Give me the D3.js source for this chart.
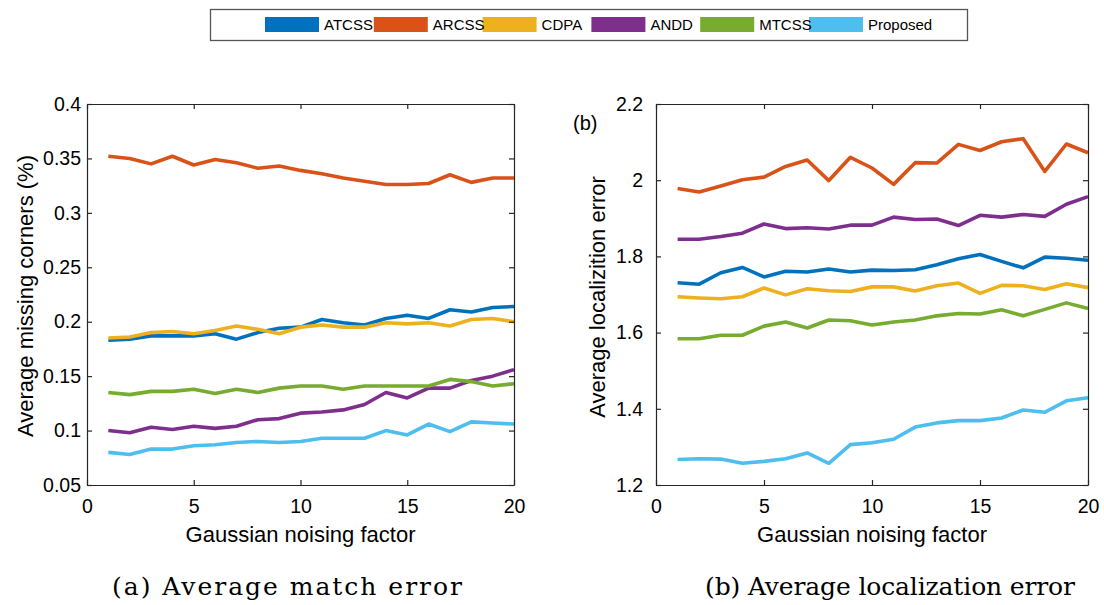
<!DOCTYPE html>
<html><head><meta charset="utf-8">
<script src="https://cdn.jsdelivr.net/npm/d3@7"></script>
<style>body{margin:0;background:#fff}svg{display:block}</style>
</head><body>
<svg id="chart" width="1104" height="605"></svg>
<script>
const xValues = [1,2,3,4,5,6,7,8,9,10,11,12,13,14,15,16,17,18,19,20];
const seriesNames = ["ATCSS","ARCSS","CDPA","ANDD","MTCSS","Proposed"];
const seriesColors = ["#0072BD","#D95319","#EDB120","#7E2F8E","#77AC30","#4DBEEE"];
const xTicks = [0,5,10,15,20];
const leftYTicks = [0.05,0.1,0.15,0.2,0.25,0.3,0.35,0.4];
const rightYTicks = [1.2,1.4,1.6,1.8,2,2.2];

// (a) Average missing corners
const matchATCSS = [0.183,0.184,0.187,0.187,0.187,0.189,0.184,0.190,0.194,0.195,0.202,0.199,0.197,0.203,0.206,0.203,0.211,0.209,0.213,0.214];
const matchARCSS = [0.352,0.350,0.345,0.352,0.344,0.349,0.346,0.341,0.343,0.339,0.336,0.332,0.329,0.326,0.326,0.327,0.335,0.328,0.332,0.332];
const matchCDPA  = [0.185,0.186,0.190,0.191,0.189,0.192,0.196,0.193,0.189,0.195,0.197,0.195,0.195,0.199,0.198,0.199,0.196,0.202,0.203,0.200];
const matchANDD  = [0.100,0.098,0.103,0.101,0.104,0.102,0.104,0.110,0.111,0.116,0.117,0.119,0.124,0.135,0.130,0.139,0.139,0.146,0.150,0.156];
const matchMTCSS = [0.135,0.133,0.136,0.136,0.138,0.134,0.138,0.135,0.139,0.141,0.141,0.138,0.141,0.141,0.141,0.141,0.147,0.145,0.141,0.143];
const matchProp  = [0.080,0.078,0.083,0.083,0.086,0.087,0.089,0.090,0.089,0.090,0.093,0.093,0.093,0.100,0.096,0.106,0.099,0.108,0.107,0.106];

// (b) Average localization error
const locATCSS = [1.731,1.727,1.757,1.771,1.746,1.761,1.759,1.767,1.759,1.764,1.763,1.765,1.778,1.794,1.805,1.787,1.770,1.798,1.795,1.790];
const locARCSS = [1.978,1.969,1.985,2.001,2.008,2.036,2.053,1.999,2.060,2.032,1.989,2.046,2.045,2.094,2.078,2.101,2.109,2.023,2.095,2.072];
const locCDPA  = [1.694,1.691,1.689,1.694,1.717,1.699,1.715,1.710,1.708,1.720,1.720,1.709,1.723,1.730,1.703,1.724,1.723,1.713,1.728,1.718];
const locANDD  = [1.845,1.845,1.852,1.861,1.885,1.873,1.875,1.872,1.882,1.882,1.903,1.897,1.898,1.881,1.908,1.903,1.910,1.905,1.937,1.957];
const locMTCSS = [1.584,1.584,1.593,1.593,1.617,1.628,1.612,1.633,1.631,1.620,1.628,1.633,1.644,1.650,1.649,1.660,1.644,1.661,1.678,1.663];
const locProp  = [1.267,1.269,1.268,1.257,1.262,1.269,1.284,1.257,1.306,1.311,1.320,1.352,1.363,1.369,1.369,1.376,1.397,1.391,1.421,1.429];

const svg = d3.select("#chart");
const FONT = "'Liberation Sans', Arial, Helvetica, sans-serif";
const axisColor = "#262626";

function drawPanel(cfg) {
  const x = d3.scaleLinear().domain([0,20]).range([cfg.x0, cfg.x1]);
  const y = d3.scaleLinear().domain(cfg.yDomain).range([cfg.y1, cfg.y0]);
  const g = svg.append("g");

  const line = d3.line().x((d,i) => x(xValues[i])).y(d => y(d));
  cfg.series.forEach((s, k) => {
    g.append("path").datum(s)
      .attr("fill","none").attr("stroke", seriesColors[k])
      .attr("stroke-width", 3.6).attr("stroke-linejoin","round")
      .attr("d", line);
  });

  const fmt = d3.format("~g");
  const bottom = g.append("g").attr("transform", `translate(0,${cfg.y1})`)
    .call(d3.axisBottom(x).tickValues(xTicks).tickSizeInner(-5).tickSizeOuter(0).tickPadding(14));
  const top = g.append("g").attr("transform", `translate(0,${cfg.y0})`)
    .call(d3.axisTop(x).tickValues(xTicks).tickSizeInner(-5).tickSizeOuter(0).tickFormat(""));
  const left = g.append("g").attr("transform", `translate(${cfg.x0},0)`)
    .call(d3.axisLeft(y).tickValues(cfg.yTicks).tickSizeInner(-5).tickSizeOuter(0).tickPadding(cfg.yPad).tickFormat(fmt));
  const right = g.append("g").attr("transform", `translate(${cfg.x1},0)`)
    .call(d3.axisRight(y).tickValues(cfg.yTicks).tickSizeInner(-5).tickSizeOuter(0).tickFormat(""));
  [bottom, top, left, right].forEach(a => {
    a.selectAll("path.domain").attr("stroke", axisColor).attr("stroke-width", 1.2);
    a.selectAll("line").attr("stroke", axisColor).attr("stroke-width", 1.2);
    a.selectAll("text").attr("fill","#000").style("font-family", FONT).style("font-size","19.5px");
  });

  g.append("text").attr("x", (cfg.x0+cfg.x1)/2).attr("y", 542)
    .attr("text-anchor","middle").style("font-family", FONT).style("font-size","22px")
    .text("Gaussian noising factor");
  g.append("text")
    .attr("transform", `translate(${cfg.ylabX},${cfg.ylabY}) rotate(-90)`)
    .attr("text-anchor","middle").style("font-family", FONT).style("font-size","22px")
    .text(cfg.yLabel);
  g.append("text").attr("x", cfg.capX).attr("y", 595)
    .attr("text-anchor","middle").style("font-family", "'DejaVu Serif', serif")
    .style("font-size","25px").attr("textLength", cfg.capW).attr("lengthAdjust","spacing")
    .text(cfg.caption);
}

drawPanel({
  x0: 87, x1: 514, y0: 104, y1: 485, yDomain: [0.05, 0.4], yTicks: leftYTicks, yPad: 6,
  series: [matchATCSS, matchARCSS, matchCDPA, matchANDD, matchMTCSS, matchProp],
  yLabel: "Average missing corners (%)", ylabX: 33, ylabY: 296,
  caption: "(a) Average match error", capX: 287, capW: 350
});
drawPanel({
  x0: 656, x1: 1088, y0: 104, y1: 485, yDomain: [1.2, 2.2], yTicks: rightYTicks, yPad: 13,
  series: [locATCSS, locARCSS, locCDPA, locANDD, locMTCSS, locProp],
  yLabel: "Average localizition error", ylabX: 605, ylabY: 297,
  caption: "(b) Average localization error", capX: 890, capW: 370
});

svg.append("text").attr("x", 573).attr("y", 130)
  .style("font-family", FONT).style("font-size","20px").text("(b)");

// Legend
const lg = svg.append("g");
lg.append("rect").attr("x", 210.5).attr("y", 9.5).attr("width", 757).attr("height", 31)
  .attr("fill","#fff").attr("stroke","#555").attr("stroke-width", 1.3);
const legX = d3.scalePoint().domain(seriesNames).range([265, 809]);
seriesNames.forEach((n, k) => {
  lg.append("rect").attr("x", legX(n)).attr("y", 17).attr("width", 54).attr("height", 15)
    .attr("fill", seriesColors[k]);
});
seriesNames.forEach((n, k) => {
  lg.append("text").attr("x", legX(n) + 59).attr("y", 30)
    .style("font-family", FONT).style("font-size","15px").text(n);
});
</script>
</body></html>
